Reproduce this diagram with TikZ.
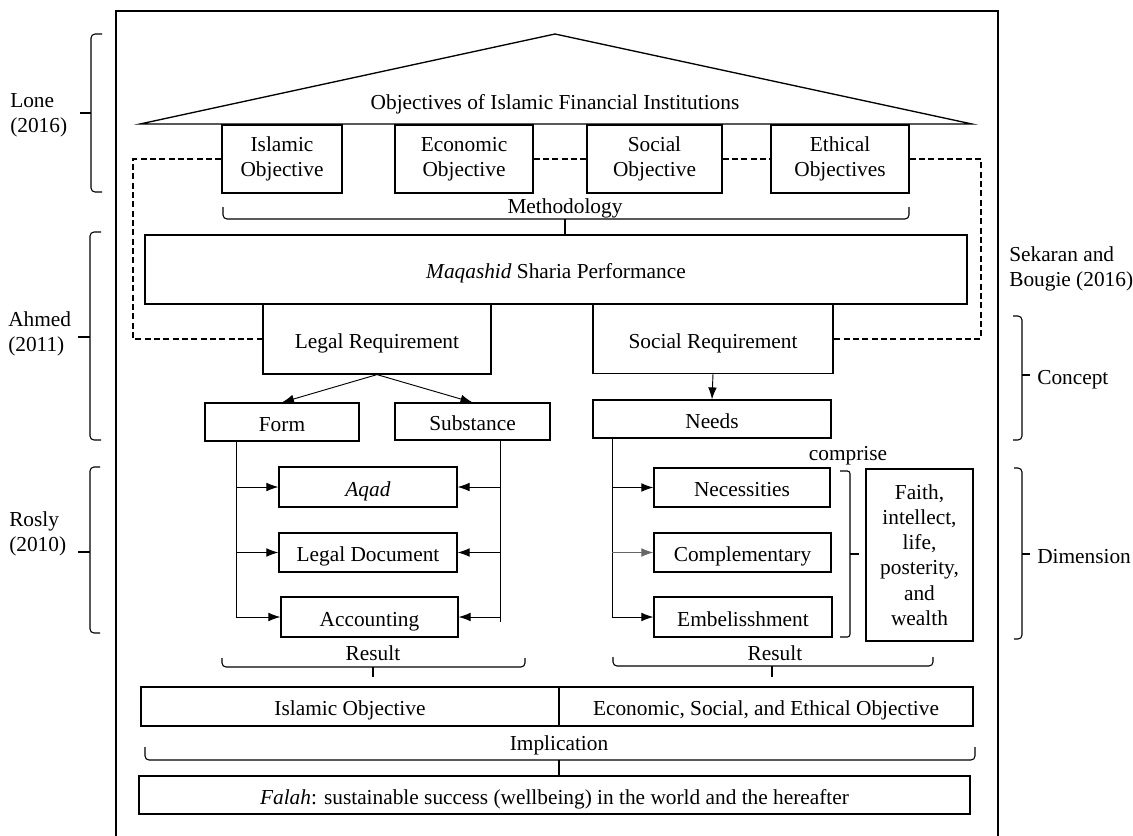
\documentclass[tikz,border=0pt]{standalone}
\usepackage{fontspec}
\setmainfont{Liberation Serif}
\usetikzlibrary{arrows.meta,calc}
\newcommand{\myHB}[6]{%
  \draw[brc,rounded corners=3pt] (#1,#4) -- (#1,#5) -- (#2,#5) -- (#2,#4);
  \draw[brc] (#3,#5) -- (#3,#6);}
\newcommand{\myVB}[6]{%
  \draw[brc,rounded corners=3pt] (#2,#4) -- (#1,#4) -- (#1,#5) -- (#2,#5);
  \draw[brc] (#1,#6) -- (#3,#6);}
\begin{document}
\begin{tikzpicture}[x=0.75pt,y=-0.75pt,
  font=\fontsize{16}{18.8}\selectfont,
  box/.style={draw,line width=0.9pt,inner sep=0pt,align=center},
  one/.style={text height=14pt,text depth=0pt},
  r/.style args={#1/#2}{minimum width=#1*0.75pt,minimum height=#2*0.75pt},
  ln/.style={line width=0.7pt},
  brc/.style={line width=0.8pt},
  arr/.style={line width=0.7pt,-{Latex[length=9pt,width=6.5pt]}},
  dsh/.style={line width=0.8pt,dash pattern=on 4.5pt off 2.5pt},
  lbl/.style={inner sep=0pt,align=left}]
\useasboundingbox (0,0) rectangle (1133,836);
% frame
\draw[line width=1pt] (116,836) -- (116,11) -- (998,11) -- (998,836);
% roof
\draw[line width=1pt,line join=miter] (140,124) -- (555,34) -- (972,124) -- cycle;
\node[one] (roof) at (555,100) {Objectives of Islamic Financial Institutions};
% objective boxes
\node[box,r=120/68] (islobj) at (282,159) {Islamic\\Objective};
\node[box,r=138/68] (ecoobj) at (464,159) {Economic\\Objective};
\node[box,r=135/68] (socobj) at (654.5,159) {Social\\Objective};
\node[box,r=138/68] (ethobj) at (840,159) {Ethical\\Objectives};
% methodology
\myHB{223}{909}{565}{207}{219}{235}
\node[one] (meth) at (565,204) {Methodology};
% maqashid
\node[box,one,r=822/69] (maq) at (556,269.5) {\textit{Maqashid} Sharia Performance};
\node[box,one,r=228/70] (legal) at (377,339) {Legal Requirement};
\node[box,one,r=240/69] (social) at (713,339) {Social Requirement};
% dashed
\draw[dsh] (islobj.west) -- (133,159) -- (133,339) -- (legal.west);
\draw[dsh] (ecoobj.east) -- (socobj.west);
\draw[dsh] (socobj.east) -- (ethobj.west);
\draw[dsh] (ethobj.east) -- (981,159) -- (981,339) -- (social.east);
% second level
\node[box,one,r=154/38] (form) at (282,422) {Form};
\node[box,one,r=155/37] (subst) at (472.5,421.5) {Substance};
\node[box,one,r=238/38] (needs) at (712,419) {Needs};
\draw[arr] (legal.south) -- (form.north);
\draw[arr] (legal.south) -- (subst.north);
\draw[arr] (social.south) -- (needs.north);
% left group
\node[box,one,r=178/40] (aqad) at (368,487) {\textit{Aqad}};
\node[box,one,r=178/39] (legdoc) at (368,552.5) {Legal Document};
\node[box,one,r=177/40] (acct) at (369.5,617) {Accounting};
\coordinate (fl) at ($(form.south west)+(32,0)$);
\coordinate (sl) at ($(subst.south west)+(106,0)$);
\draw[ln] (fl) -- (fl |- acct.west);
\draw[ln] (sl) -- ($(sl |- acct.east)+(0,5)$);
\draw[arr] (fl |- aqad.west) -- (aqad.west);
\draw[arr] (fl |- legdoc.west) -- (legdoc.west);
\draw[arr] (fl |- acct.west) -- (acct.west);
\draw[arr] (sl |- aqad.east) -- (aqad.east);
\draw[arr] (sl |- legdoc.east) -- (legdoc.east);
\draw[arr] (sl |- acct.east) -- (acct.east);
% right group
\node[box,one,r=176/39] (nec) at (742,487.5) {Necessities};
\node[box,one,r=177/39] (comp) at (742.5,552.5) {Complementary};
\node[box,one,r=178/40] (emb) at (743,617) {Embelisshment};
\coordinate (nl) at ($(needs.south west)+(20,0)$);
\draw[ln] (nl) -- (nl |- emb.west);
\draw[arr] (nl |- nec.west) -- (nec.west);
\draw[arr,draw=black!60] (nl |- comp.west) -- (comp.west);
\draw[arr] (nl |- emb.west) -- (emb.west);
\node[one] (comprise) at (848,451) {comprise};
\draw[brc,rounded corners=2pt] (840,471) -- (850,471) -- (850,637) -- (840,637);
\draw[brc] (850,554) -- (859,554);
\node[box,r=107/172,font=\fontsize{16}{18.9}\selectfont] (faith) at (919.5,555) {Faith,\\intellect,\\life,\\posterity,\\and\\wealth};
% results
\myHB{222}{525}{373}{658}{667}{677}
\node[one] (res1) at (373,651) {Result};
\myHB{613}{933}{772}{657}{666}{677}
\node[one] (res2) at (775,651) {Result};
\node[box,one,r=418/39] (islobj2) at (350,706.5) {Islamic Objective};
\node[box,one,r=414/39] (esobj) at (766,706.5) {Economic, Social, and Ethical Objective};
\myHB{145}{975}{559}{747}{760}{776}
\node[one] (impl) at (559,741) {Implication};
\node[box,one,r=831/38] (falah) at (554.5,795) {\textit{Falah}: sustainable success (wellbeing) in the world and the hereafter};
% left references
\myVB{91}{102}{80}{34}{192}{113}
\myVB{90}{101}{78}{232}{440}{337}
\myVB{90}{100}{78}{467}{633}{552}
\node[lbl,anchor=west] (lone) at (10,115) {Lone\\(2016)};
\node[lbl,anchor=west] (ahmed) at (8,334) {Ahmed\\(2011)};
\node[lbl,anchor=west] (rosly) at (9,534) {Rosly\\(2010)};
% right references
\node[lbl,anchor=west] (sek) at (1009,269) {Sekaran and\\Bougie (2016)};
\myVB{1022}{1013}{1030}{316}{440}{375}
\myVB{1022}{1014}{1030}{468}{639}{554}
\node[lbl,anchor=west,one] (concept) at (1037,375) {Concept};
\node[lbl,anchor=west,one] (dim) at (1037,554) {Dimension};
\end{tikzpicture}
\end{document}
